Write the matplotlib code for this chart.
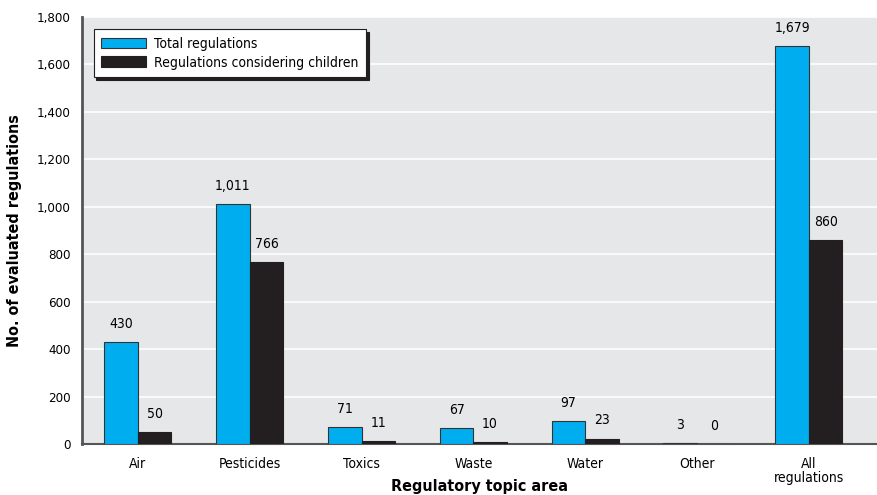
import numpy as np
import matplotlib.pyplot as plt

# data
categories = ["Air", "Pesticides", "Toxics", "Waste", "Water", "Other", "All\nregulations"]
total_regs = [430, 1011, 71, 67, 97, 3, 1679]
children_regs = [50, 766, 11, 10, 23, 0, 860]
y_ticks = [0, 200, 400, 600, 800, 1000, 1200, 1400, 1600, 1800]

plt.rcParams['font.family'] = ['DejaVu Sans']
plt.rcParams['font.stretch'] = 'condensed'

fig = plt.figure(figsize=(8.77, 4.95), dpi=100)
ax = fig.add_axes([0.0935, 0.103, 0.9065, 0.8627])
ax.set_facecolor("#e6e7e8")

x = np.arange(len(categories))
w = 0.30
b1 = ax.bar(x - w / 2, total_regs, w, color="#00aeef", edgecolor="#333333", linewidth=0.8,
            label="Total regulations", zorder=3)
b2 = ax.bar(x + w / 2, children_regs, w, color="#231f20", edgecolor="#231f20", linewidth=0.8,
            label="Regulations considering children", zorder=3)

for bars, vals in [(b1, total_regs), (b2, children_regs)]:
    for r, v in zip(bars, vals):
        ax.annotate(f"{v:,}", (r.get_x() + r.get_width() / 2, v), xytext=(0, 8),
                    textcoords="offset points", ha="center", va="bottom", fontsize=10)

ax.set_xlim(-0.5, 6.61)
ax.set_ylim(0, 1800)
ax.set_yticks(y_ticks)
ax.set_yticklabels([f"{t:,}" for t in y_ticks], fontsize=9.5)
ax.set_xticks(x)
ax.set_xticklabels(categories, fontsize=10, linespacing=1.0)
ax.tick_params(axis="x", length=0, pad=9)
ax.tick_params(axis="y", length=0, pad=8)
ax.yaxis.grid(True, color="white", linewidth=1.2, zorder=0)
ax.set_axisbelow(True)

for s in ["top", "right"]:
    ax.spines[s].set_visible(False)
ax.spines["left"].set_color("#555555")
ax.spines["left"].set_linewidth(2)
ax.spines["bottom"].set_color("#555555")
ax.spines["bottom"].set_linewidth(1.5)

ax.set_ylabel("No. of evaluated regulations", fontsize=11.5, fontweight="bold")
ax.yaxis.set_label_coords(-0.075, 0.5)
ax.set_xlabel("Regulatory topic area", fontsize=11.5, fontweight="bold")
ax.xaxis.set_label_coords(0.5, -0.081)

leg = ax.legend(loc="upper left", bbox_to_anchor=(0.006, 0.988), fontsize=10, fancybox=False,
                shadow={"color": "#231f20", "alpha": 1, "ox": 2, "oy": -2}, framealpha=1,
                edgecolor="#231f20", handlelength=3.2, handleheight=0.8, handletextpad=0.6,
                borderpad=0.55, labelspacing=0.35)
leg.get_frame().set_linewidth(0.8)

fig.savefig("out.png", dpi=100)
